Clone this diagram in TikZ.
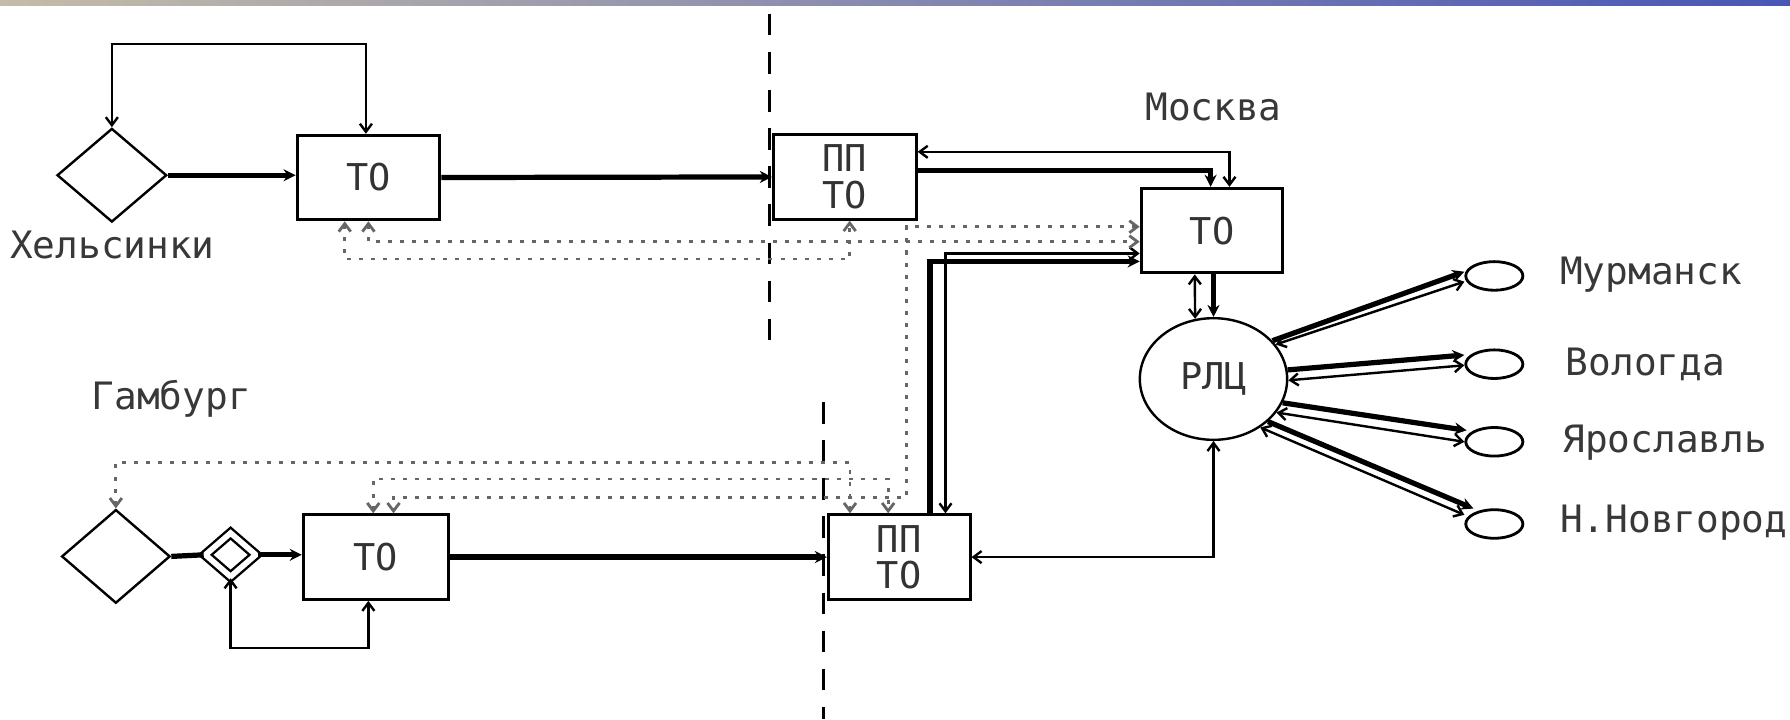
\documentclass[tikz,border=0pt]{standalone}
\usepackage{fontspec}
\newfontfamily\monofont{DejaVu Sans Mono}
\usetikzlibrary{arrows.meta, shapes.geometric, calc}
\definecolor{bandL}{RGB}{196,188,168}
\definecolor{bandM}{RGB}{104,112,192}
\definecolor{bandR}{RGB}{72,86,182}

\begin{document}
\begin{tikzpicture}[x=0.01cm, y=-0.01cm,
  box/.style={draw, line width=0.75pt, minimum width=1.25cm,
    minimum height=0.74cm, inner sep=0pt, align=center, text=black!80,
    font=\monofont\fontsize{9.2}{9.1}\selectfont},
  site/.style={draw, diamond, line width=0.6pt, inner sep=0pt,
    minimum width=0.96cm, minimum height=0.82cm},
  city/.style={draw, ellipse, line width=0.7pt, inner sep=0pt,
    minimum width=0.5cm, minimum height=0.25cm},
  lbl/.style={font=\monofont\fontsize{9.4}{11}\selectfont, inner sep=0pt, text=black!78},
  link/.style={line width=1.3pt},
  flow/.style={line width=1.3pt, -{Stealth[length=3pt, width=3pt]}},
  back/.style={line width=0.6pt,
    {Straight Barb[length=2pt, width=3pt]}-{Straight Barb[length=2pt, width=3pt]}},
  info/.style={line width=0.7pt, black!60, dash pattern=on 1pt off 2pt,
    {Straight Barb[length=2pt, width=3pt]}-{Straight Barb[length=2pt, width=3pt]}},
  frontier/.style={line width=0.9pt, dash pattern=on 5.4pt off 4.1pt}
]
\useasboundingbox (0,0) rectangle (1568,630);
\shade[left color=bandL, middle color=bandM, right color=bandR] (0,0) rectangle (1568,4.4);

% borders
\draw[frontier] (674,12) -- (674,298);
\draw[frontier] (721.3,352) -- (721.3,630);

% Helsinki line
\node[site] (hel) at (98,153.5) {};
\node[lbl] (helL) at (98.5,214.6) {Хельсинки};
\node[box] (to1) at (322.75,155.5) {ТО};
\node[box] (pp1) at (740,155) {ПП\\ТО};

% Hamburg line
\node[lbl] (hamL) at (150,349) {Гамбург};
\node[site, minimum width=0.95cm] (ham) at (101.5,487.4) {};
\node[draw, diamond, double, double distance=1.4pt, line width=0.6pt,
  inner sep=0pt, minimum width=0.45cm, minimum height=0.39cm] (sw) at (202,486) {};
\node[box, minimum width=1.27cm] (to2) at (329.2,488) {ТО};
\node[box, minimum width=1.24cm] (pp2) at (787.7,488) {ПП\\ТО};

% Moscow
\node[lbl] (mosL) at (1063,93.5) {Москва};
\node[box, minimum width=1.24cm] (mto) at (1061.7,202) {ТО};
\node[draw, ellipse, line width=0.6pt, minimum width=1.29cm,
  minimum height=1.065cm, inner sep=0pt, text=black!80,
  font=\monofont\fontsize{9.2}{11}\selectfont] (rlc) at (1063,332) {РЛЦ};

% regions
\node[city] (mur) at (1309,241.7) {};
\node[city] (vol) at (1309,319) {};
\node[city] (yar) at (1309,387) {};
\node[city] (nno) at (1309,459) {};
\node[lbl, anchor=west] (murL) at (1366,241) {Мурманск};
\node[lbl, anchor=west] (volL) at (1371,319) {Вологда};
\node[lbl, anchor=west] (yarL) at (1368,388) {Ярославль};
\node[lbl, anchor=west] (nnoL) at (1366,458) {Н.Новгород};

\draw[flow] (hel.east) -- (hel.east -| to1.west);
\draw[back] (hel.north) -- ++(0,-73) -| ([xshift=-0.022cm]to1.north);
\draw[flow] (to1.east) -- (pp1.west);
\draw[flow] ([yshift=0.055cm]pp1.east) -| ([xshift=-0.012cm]mto.north);
\draw[back] ([xshift=0.153cm]mto.north) |- ([yshift=0.22cm]pp1.east);

\draw[link] (ham.east) -- (sw.west);
\draw[flow] (sw.east) -- (sw.east -| to2.west);
\draw[back] (sw.south) -- ++(0,61) -| ([xshift=-0.065cm]to2.south);
\draw[flow] (to2.east) -- (pp2.west);
\draw[flow] ([xshift=0.27cm]pp2.north) |- ([yshift=-0.27cm]mto.west);
\draw[back] ([yshift=-0.2cm]mto.west) -| ([xshift=0.405cm]pp2.north);

\draw[back] ($(mto.south)+(-15.1,0)$) -- (rlc.107);
\draw[flow] (mto.south -| rlc.north) -- (rlc.north);
\draw[back] (rlc.south) |- (pp2.east);

% service data
\draw[info] ([xshift=-0.2075cm]to1.south) -- ++(0,33) -| ([xshift=0.043cm]pp1.south);
\draw[info] (to1.south) |- ([yshift=-0.097cm]mto.west);
\draw[info] ([yshift=0.034cm]mto.west) -- ++(-204,0) -- ++(0,237)
  -| ([xshift=0.155cm]to2.north);
\draw[info] ([xshift=-0.022cm]to2.north) -- ++(0,-30) -| ([xshift=-0.097cm]pp2.north);
\draw[info] (ham.north) -- ++(0,-40) -| ([xshift=-0.431cm]pp2.north);

% RLC to regions
\draw[flow] (rlc.33) -- ([yshift=0.037cm]mur.west);
\draw[back] ([yshift=-0.05cm]mur.west) -- (rlc.29);
\draw[flow] (rlc.7) -- ([yshift=0.08cm]vol.west);
\draw[back] ([yshift=-0.01cm]vol.west) -- (rlc.-1);
\draw[flow] (rlc.-19) -- ([xshift=0.02cm, yshift=0.1cm]yar.west);
\draw[back] (yar.west) -- (rlc.-28);
\draw[flow] (rlc.-38.5) -- ([xshift=0.08cm, yshift=0.135cm]nno.west);
\draw[back] ([yshift=0.08cm]nno.west) -- (rlc.-46);

\end{tikzpicture}
\end{document}
